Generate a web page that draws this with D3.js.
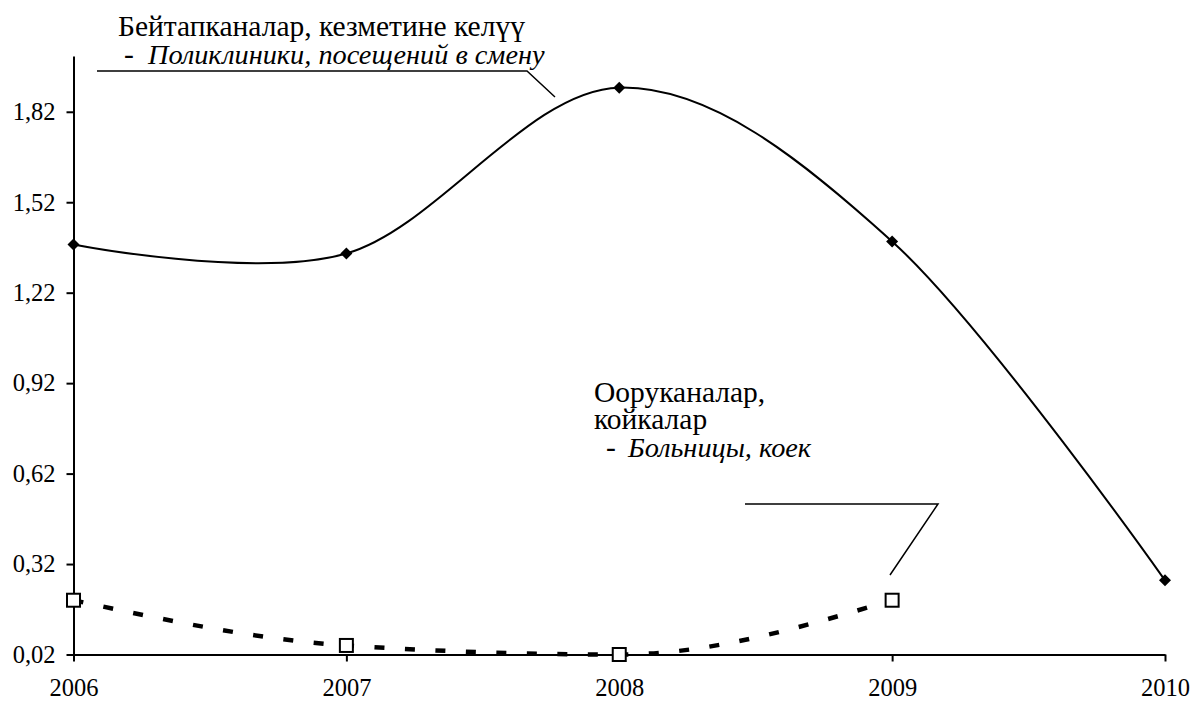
<!DOCTYPE html>
<html>
  <head>
    <meta charset="utf-8">
  </head>
  <body style="margin:0">
    <script src="https://cdn.jsdelivr.net/npm/d3@7"></script>
    <script>
    var width = 1194, height = 701;
    var fontFam = "'Liberation Serif', 'Times New Roman', Tinos, Times, serif";

    // data
    var years = [2006, 2007, 2008, 2009, 2010];
    var polyclinics = [1.38, 1.35, 1.90, 1.39, 0.266];   // visits per shift
    var hospitals = [0.20, 0.05, 0.02, 0.20];             // beds (no 2010 value)
    var yTicks = [0.02, 0.32, 0.62, 0.92, 1.22, 1.52, 1.82];

    var svg = d3.select("body")
        .append("svg")
        .attr("width", width)
        .attr("height", height)
        .style("font-family", fontFam);

    var x = d3.scaleLinear()
        .domain([2006, 2010])
        .range([73.5, 1165]);

    var y = d3.scaleLinear()
        .domain([0.02, 2.005])
        .range([654.5, 56]);

    // axes
    svg.append("g")
        .attr("transform", "translate(0," + y(0.02) + ")")
        .call(d3.axisBottom(x).tickValues(years).tickFormat(d3.format("d"))
          .tickSize(7).tickSizeOuter(0).tickPadding(17));

    svg.append("g")
        .attr("transform", "translate(" + x(2006) + ",0)")
        .call(d3.axisLeft(y).tickValues(yTicks)
          .tickFormat(function(d){ return d3.format(".2f")(d).replace(".", ","); })
          .tickSize(7).tickSizeOuter(0).tickPadding(11));

    svg.selectAll(".domain, .tick line")
        .attr("stroke", "#000")
        .attr("stroke-width", 2);

    svg.selectAll(".tick text")
        .style("font-family", fontFam)
        .style("font-size", "24.5px")
        .attr("fill", "#000");

    // smoothed lines
    var line = d3.line()
        .x(function(d){ return x(d.year); })
        .y(function(d){ return y(d.value); });

    var polyData = years.map(function(yr, i){ return {year: yr, value: polyclinics[i]}; });
    var hospData = hospitals.map(function(v, i){ return {year: years[i], value: v}; });

    svg.append("path")
        .datum(hospData)
        .attr("d", line.curve(d3.curveMonotoneX))
        .attr("fill", "none")
        .attr("stroke", "#000")
        .attr("stroke-width", 4.5)
        .attr("stroke-dasharray", "10,20.5");

    svg.append("path")
        .datum(polyData)
        .attr("d", line.curve(d3.curveCardinal.tension(0)))
        .attr("fill", "none")
        .attr("stroke", "#000")
        .attr("stroke-width", 2);

    // markers
    svg.selectAll(".diamond")
        .data(polyData)
        .enter().append("path")
          .attr("class", "diamond")
          .attr("d", "M0,-6L6,0L0,6L-6,0Z")
          .attr("transform", function(d){ return "translate(" + x(d.year) + "," + y(d.value) + ")"; })
          .attr("fill", "#000");

    svg.selectAll(".square")
        .data(hospData)
        .enter().append("rect")
          .attr("class", "square")
          .attr("x", function(d){ return x(d.year) - 6.5; })
          .attr("y", function(d){ return y(d.value) - 6.5; })
          .attr("width", 13)
          .attr("height", 13)
          .attr("fill", "#fff")
          .attr("stroke", "#000")
          .attr("stroke-width", 2);

    // annotations with leader lines
    function note(parts) {
      parts.forEach(function(p){
        svg.append("text")
          .attr("x", p[0]).attr("y", p[1])
          .style("font-family", fontFam)
          .style("font-size", p[3] ? "28.3px" : "29.5px")
          .style("font-style", p[3] ? "italic" : "normal")
          .text(p[2]);
      });
    }

    note([[118, 36, "Бейтапканалар, кезметине келүү"],
          [124, 64, "-"],
          [148, 64, "Поликлиники, посещений в смену", true]]);

    svg.append("polyline")
        .attr("points", "97,71 527,71 555,97")
        .attr("fill", "none")
        .attr("stroke", "#000")
        .attr("stroke-width", 1.5);

    note([[594, 402, "Ооруканалар,"],
          [594, 429, "койкалар"],
          [606, 457, "-"],
          [628, 457, "Больницы, коек", true]]);

    svg.append("polyline")
        .attr("points", "745,504 938,504 890,575")
        .attr("fill", "none")
        .attr("stroke", "#000")
        .attr("stroke-width", 1.5);
    </script>
  </body>
</html>
